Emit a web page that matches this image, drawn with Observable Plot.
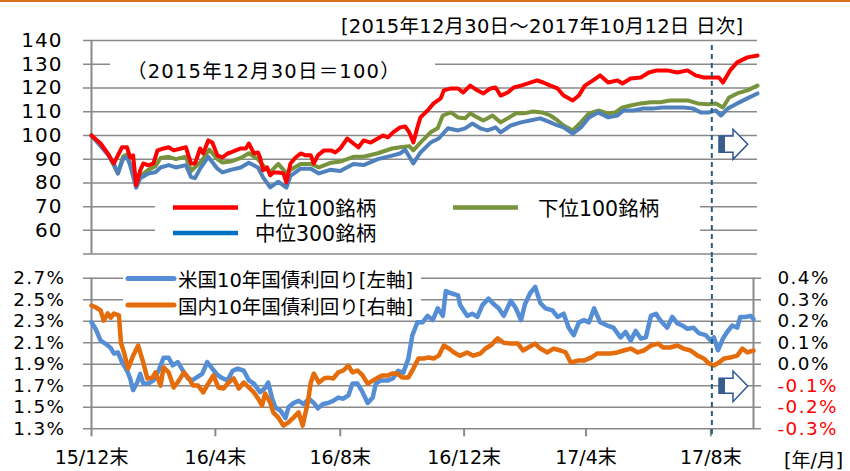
<!DOCTYPE html>
<html><head><meta charset="utf-8">
<script src="https://cdn.jsdelivr.net/npm/d3@7"></script>
<script src="https://cdn.jsdelivr.net/npm/@observablehq/plot@0.6"></script>
<style>
body{margin:0;background:#fff;}
#wrap{position:relative;width:850px;height:471px;overflow:hidden;background:#fff;}
#wrap svg{position:absolute;left:0;background:transparent !important;}
</style></head><body><div id="wrap"></div>
<script>
// ---- Top panel: index (2015/12/30 = 100); x = days since 2015-12-30 ----
const redDays = [0,9,16,22,26,30,35,38,41,44,48,51,56,61,65,71,76,81,88,93,98,102,107,110,115,119,124,129,134,137,142,147,152,155,160,164,166,169,173,176,179,184,189,192,196,201,206,211,216,219,223,229,236,240,245,252,258,263,268,275,282,287,292,297,304,309,313,317,321,324,331,337,344,347,354,361,366,373,380,386,393,398,403,410,416,423,430,439,445,452,459,465,474,480,486,494,501,509,518,523,531,541,549,557,567,577,587,595,603,612,618,622,629,636,646,656];
const redVals = [100,96.6,92.4,88.2,91.6,95,95,90.7,91.6,79,85.3,88.2,87.4,88.2,93.7,94.5,95,93.7,94.5,95,88.2,88.2,94.5,92.4,97.9,97,91.6,90.7,92.4,92.8,93.7,94.5,94.5,96.6,92.4,92.8,90.7,85.3,86.5,83.2,84.4,84.4,84,80.2,88.2,90.7,92.4,91.6,91.6,88.2,91.6,93.7,93.7,92.8,94.5,98.7,96.6,95,97.9,97,98.7,100,99.2,101.3,103.4,103.8,101.3,97,103.4,107.6,110.5,113.5,115.6,119,119.8,119.8,118.1,121,119,117.7,119.8,120.2,116.8,118.1,120.2,121,121.9,123.2,122.3,121,119.8,116.8,114.7,116.8,121,123.2,125.3,122.3,123.2,121.9,124,124.4,126.5,127.4,127.4,126.5,127.4,125.3,124.4,124.4,124.4,122.3,127.4,130.8,132.9,133.7];
const greenDays = [0,16,22,26,31,35,38,44,48,56,63,68,76,83,93,98,108,116,124,129,137,147,155,164,169,176,184,192,196,206,216,224,236,245,258,268,282,296,304,313,317,324,334,341,346,354,361,368,373,380,386,395,403,410,418,426,435,444,452,459,465,474,482,490,500,508,516,523,531,541,551,560,570,580,588,597,607,615,622,628,636,646,656];
const greenVals = [100,92.4,87.4,84,91,92,88,79.5,83,85.5,87,90.5,91,90,91,85,89,94,90,88.6,89,90.5,92.5,90,87.4,84.5,88,84,85.5,88,88,86.5,88.5,89,91,91,92.5,94.5,95,95.5,93.7,97,101.3,103,108.4,109.7,107.6,107.2,109.3,107.6,106.3,108.4,105.5,107.2,109.3,109.3,110.1,109.7,108.4,106.3,104.2,102.1,105.5,109.3,110.5,109.3,109.7,111.8,112.6,113.5,114,114,114.7,114.7,114.7,113.5,113.1,113.5,111.8,116,117.7,119,121];
const blueDays = [0,16,22,26,31,35,38,44,48,56,63,68,76,83,93,98,102,107,115,124,129,137,147,155,164,169,176,184,192,196,206,216,224,235,245,258,268,282,296,304,309,317,324,334,342,351,361,368,375,383,390,398,403,413,423,432,442,452,459,465,474,482,490,499,509,518,524,534,544,554,563,573,583,592,600,608,615,620,627,636,646,656];
const blueVals = [100,92,88,84,90,91,87.5,78,82,84,84.5,86.5,87.5,86.5,87.5,82.5,82,86,91,86,84.4,85.5,86.5,88.5,86.5,82.3,78.1,80.5,78,83,86,86,84,85.5,85,88,87.5,90,91.5,92.4,94,88.2,92.8,97,98.7,103,102.1,103,105,103,102.1,103.4,101.3,104.2,105.5,106.3,107.2,105.5,104.2,103.4,100.8,103.4,107.6,109.7,107.6,108.4,110.5,110.5,111.4,111.4,111.8,111.8,111.8,111.4,109.7,109.7,110.5,108.4,111.4,113.5,115.6,117.7];
const topTicks = [60,70,80,90,100,110,120,130,140];
const topGrid = [50,60,70,80,90,100,110,120,130,140];
const topSeries = ["上位100銘柄","中位300銘柄","下位100銘柄"];

// ---- Bottom panel: 10y yields (%) ----
const usDays = [0,4,9,14,19,22,26,30,35,38,41,45,48,51,56,61,66,71,76,80,85,90,95,99,104,109,114,119,124,129,134,139,144,150,155,160,166,171,174,178,181,186,191,194,199,204,209,214,219,223,228,233,238,243,248,253,257,262,267,272,277,280,285,292,297,302,307,312,316,321,326,331,336,341,346,349,354,361,363,370,375,380,385,391,396,401,406,413,418,423,427,432,437,442,447,454,459,465,470,475,480,485,490,495,501,508,514,521,526,531,536,541,546,551,556,560,567,572,577,582,587,593,598,605,610,613,617,622,626,631,636,639,644,649,652];
const usVals = [2.29,2.23,2.12,2.09,2.05,2.0,2.01,1.92,1.84,1.77,1.66,1.73,1.81,1.72,1.72,1.75,1.84,1.96,1.96,1.89,1.92,1.84,1.77,1.75,1.78,1.81,1.92,1.86,1.80,1.77,1.75,1.84,1.86,1.84,1.75,1.72,1.64,1.68,1.73,1.58,1.50,1.47,1.40,1.50,1.54,1.56,1.53,1.58,1.54,1.49,1.53,1.54,1.56,1.59,1.58,1.61,1.72,1.72,1.64,1.54,1.59,1.72,1.75,1.75,1.77,1.84,1.82,1.95,2.17,2.29,2.29,2.35,2.31,2.42,2.35,2.58,2.56,2.54,2.45,2.35,2.37,2.34,2.45,2.51,2.46,2.42,2.35,2.49,2.42,2.31,2.46,2.56,2.62,2.47,2.42,2.40,2.34,2.37,2.24,2.17,2.29,2.31,2.29,2.42,2.29,2.26,2.24,2.15,2.20,2.12,2.21,2.14,2.15,2.35,2.37,2.31,2.24,2.34,2.28,2.26,2.23,2.24,2.19,2.17,2.12,2.15,2.03,2.14,2.20,2.26,2.24,2.34,2.34,2.35,2.32];
const jpDays = [0,4,9,12,16,19,22,27,29,32,36,41,46,51,55,60,63,68,71,76,81,86,91,96,100,105,110,115,120,125,130,135,140,145,150,155,160,164,168,171,176,179,184,189,194,199,204,208,213,216,219,224,229,233,238,243,248,253,257,262,267,272,277,282,287,292,296,301,306,312,317,322,327,332,337,342,347,352,357,363,370,376,383,388,393,400,406,413,420,425,430,437,442,449,455,462,467,472,479,485,492,498,504,511,518,524,531,538,544,551,558,563,570,577,583,590,597,603,608,613,618,623,629,636,641,646,652];
const jpVals = [0.273,0.265,0.25,0.203,0.236,0.217,0.236,0.227,0.10,0.055,-0.02,0.04,0.087,0.008,-0.066,-0.062,-0.038,-0.099,-0.015,-0.038,-0.108,-0.076,-0.038,-0.066,-0.099,-0.099,-0.131,-0.09,-0.052,-0.108,-0.113,-0.085,-0.066,-0.113,-0.085,-0.108,-0.131,-0.159,-0.192,-0.136,-0.178,-0.224,-0.248,-0.285,-0.27,-0.248,-0.224,-0.285,-0.178,-0.085,-0.043,-0.085,-0.066,-0.062,-0.066,-0.038,-0.029,-0.006,-0.038,-0.029,-0.052,-0.09,-0.076,-0.062,-0.052,-0.052,-0.043,-0.043,-0.062,-0.062,-0.02,0.027,0.027,0.031,0.027,0.04,0.087,0.073,0.055,0.04,0.055,0.04,0.05,0.073,0.087,0.12,0.10,0.096,0.096,0.064,0.078,0.096,0.073,0.055,0.073,0.064,0.055,0.008,0.017,0.017,0.031,0.05,0.05,0.05,0.055,0.064,0.073,0.055,0.064,0.087,0.096,0.078,0.078,0.087,0.073,0.064,0.04,0.027,0.004,-0.006,0.008,0.027,0.031,0.04,0.073,0.055,0.064];
const leftTicks = [1.3,1.5,1.7,1.9,2.1,2.3,2.5,2.7];
const rightTicks = [-0.3,-0.2,-0.1,0.0,0.1,0.2,0.3,0.4];
const xTickDays = [0,122,245,367,487,610];
const xTickLabels = ["15/12末","16/4末","16/8末","16/12末","17/4末","17/8末"];
const markerDay = 611;
const botSeries = ["米国10年国債利回り[左軸]","国内10年国債利回り[右軸]"];

const FONT = '"DejaVu Sans","Noto Sans CJK JP",sans-serif';
const GRID = "#898989";
const DASH = "#245E79";
const C = {red:"#FF0000", green:"#77933C", blue:"#4F81BD", blueKey:"#0070C0", us:"#558ED5", jp:"#E46C0A"};
const toRows = (days, vals) => days.map((d,i)=>({d, v: vals[i]}));
// right axis (JGB) -> left axis value
const r2l = r => r*2 + 1.9;

const wrap = document.getElementById("wrap");

const topPlot = Plot.plot({
  width: 850, height: 258,
  marginLeft: 91, marginRight: 93, marginTop: 40, marginBottom: 4.4,
  x: {domain: [0, 656], axis: null, label: null},
  y: {domain: [50, 140], axis: null, label: null},
  style: {fontFamily: FONT, color: "#000"},
  marks: [
    Plot.ruleY(topGrid, {stroke: GRID, strokeWidth: 1.5, insetLeft: -8}),
    Plot.ruleX([0], {stroke: GRID, strokeWidth: 2}),
    Plot.axisY({ticks: topTicks, tickSize: 0, tickPadding: 29, fontSize: 20, label: null, fill: "#000"}),
    Plot.line(toRows(greenDays, greenVals), {x: "d", y: "v", stroke: C.green, strokeWidth: 4, strokeLinejoin: "round"}),
    Plot.line(toRows(blueDays, blueVals), {x: "d", y: "v", stroke: C.blue, strokeWidth: 4, strokeLinejoin: "round"}),
    Plot.line(toRows(redDays, redVals), {x: "d", y: "v", stroke: C.red, strokeWidth: 4, strokeLinejoin: "round"}),
    Plot.ruleX([markerDay], {stroke: DASH, strokeWidth: 2, strokeDasharray: "5,4", insetTop: 5, insetBottom: -4})
  ]
});
topPlot.style.top = "0px";
wrap.appendChild(topPlot);
d3.select(topPlot).selectAll('g[aria-label="y-axis tick label"]').style("letter-spacing", "1px");

const botPlot = Plot.plot({
  width: 850, height: 213,
  marginLeft: 91, marginRight: 97, marginTop: 19.7, marginBottom: 42.7,
  x: {domain: [0, 652], axis: null, label: null},
  y: {domain: [1.3, 2.7], axis: null, label: null},
  style: {fontFamily: FONT, color: "#000"},
  marks: [
    Plot.ruleY(leftTicks, {stroke: GRID, strokeWidth: 1.5, insetLeft: -8, insetRight: -8}),
    Plot.ruleX([0, 652], {stroke: GRID, strokeWidth: 2}),
    Plot.axisX({ticks: xTickDays, tickFormat: d => xTickLabels[xTickDays.indexOf(d)], tickSize: 8, tickPadding: 14, fontSize: 19, stroke: GRID, strokeWidth: 2, fill: "#000", label: null}),
    Plot.axisY({ticks: leftTicks, tickFormat: d => d.toFixed(1) + "%", tickSize: 0, tickPadding: 26, fontSize: 18.4, fill: "#000", label: null}),
    Plot.text(rightTicks.filter(r => r >= 0), {y: r => r2l(r), text: r => r.toFixed(1) + "%", frameAnchor: "right", dx: 24, textAnchor: "start", fontSize: 18.4, fill: "#000"}),
    Plot.text(rightTicks.filter(r => r < 0), {y: r => r2l(r), text: r => r.toFixed(1) + "%", frameAnchor: "right", dx: 24, textAnchor: "start", fontSize: 18.4, fill: "#FF0000"}),
    Plot.line(toRows(usDays, usVals), {x: "d", y: "v", stroke: C.us, strokeWidth: 4.5, strokeLinejoin: "round"}),
    Plot.line(toRows(jpDays, jpVals), {x: "d", y: r => r2l(r.v), stroke: C.jp, strokeWidth: 4.5, strokeLinejoin: "round"}),
    Plot.ruleX([markerDay], {stroke: DASH, strokeWidth: 2, strokeDasharray: "5,4", insetTop: -19.7, insetBottom: -8})
  ]
});
botPlot.style.top = "258px";
wrap.appendChild(botPlot);
d3.select(botPlot).selectAll('g[aria-label="y-axis tick label"], g[aria-label="text"]').style("letter-spacing", "1.4px");

// ---- annotation overlay ----
const ov = d3.select(wrap).append("svg").attr("width", 850).attr("height", 471)
  .style("top", "0px").style("font-family", FONT);
ov.append("rect").attr("x", 0).attr("y", 0).attr("width", 850).attr("height", 2).attr("fill", "#D9701C");
// white boxes (legends / subtitle)
ov.append("rect").attr("x", 110).attr("y", 50).attr("width", 325).attr("height", 32).attr("fill", "#fff");
ov.append("rect").attr("x", 155).attr("y", 195).attr("width", 545).attr("height", 51).attr("fill", "#fff");
ov.append("rect").attr("x", 123).attr("y", 262).attr("width", 298).attr("height", 54).attr("fill", "#fff");

const txt = (x, y, s, size, anchor="start", fill="#000") =>
  ov.append("text").attr("x", x).attr("y", y).attr("font-size", size).attr("text-anchor", anchor)
    .attr("dominant-baseline", "central").attr("fill", fill).text(s);

txt(341, 26.5, "[2015年12月30日～2017年10月12日 日次]", 19.5).style("letter-spacing", "0.25px");
txt(127, 71, "（2015年12月30日＝100）", 19.5).style("letter-spacing", "1.2px");

const key = (x1, x2, y, color, w) => ov.append("line").attr("x1", x1).attr("x2", x2).attr("y1", y).attr("y2", y)
  .attr("stroke", color).attr("stroke-width", w);
key(173, 238, 207.5, C.red, 4.5);  txt(255, 209, topSeries[0], 20.5);
key(173, 238, 233, C.blueKey, 4.5); txt(255, 233.5, topSeries[1], 20.5);
key(453, 518, 207.5, C.green, 4.5); txt(538, 209, topSeries[2], 20.5);

key(128, 174, 278.5, C.us, 5).attr("stroke-linecap", "round"); txt(178, 280, botSeries[0], 19.5);
key(128, 174, 305, C.jp, 5).attr("stroke-linecap", "round"); txt(178, 307, botSeries[1], 19.5);

txt(784, 460, "[年/月]", 19);

// block arrows
const arrow = (yTop, yBot, hTop, tipY, hBot) => {
  ov.append("polygon").attr("points",
    `719,${yTop} 733,${yTop} 733,${hTop} 747.7,${tipY} 733,${hBot} 733,${yBot} 719,${yBot}`)
    .attr("fill", "#fff").attr("stroke", "#2F5597").attr("stroke-width", 1.5).attr("stroke-linejoin", "miter");
  ov.append("rect").attr("x", 719).attr("y", yTop).attr("width", 6).attr("height", yBot - yTop).attr("fill", "#385D8A");
};
arrow(136, 152.3, 129.3, 144.3, 159.3);
arrow(378.3, 393.3, 371, 386, 401.7);
</script></body></html>
